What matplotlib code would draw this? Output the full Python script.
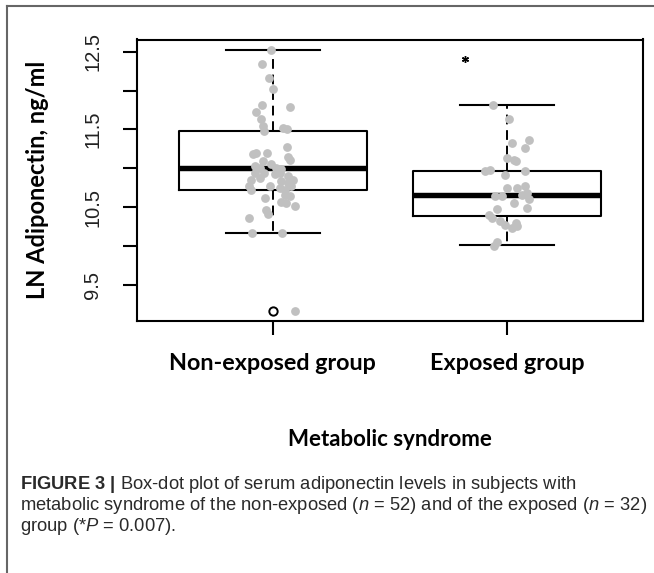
import numpy as np
import matplotlib
matplotlib.use("Agg")
import matplotlib.pyplot as plt
from matplotlib.lines import Line2D

plt.rcParams['mathtext.fontset'] = 'custom'
plt.rcParams['mathtext.rm'] = 'Liberation Sans'
plt.rcParams['mathtext.it'] = 'Liberation Sans:italic'
plt.rcParams['mathtext.bf'] = 'Liberation Sans:bold'

groups = ["Non-exposed group", "Exposed group"]

# LN adiponectin of each subject (dots), with the horizontal jitter seen in the picture
non_exposed = [12.52, 12.34, 12.16, 12.02, 11.81, 11.79, 11.72, 11.63, 11.54, 11.48,
               11.52, 11.50, 11.28, 11.18, 11.19, 11.19, 11.15, 11.11, 11.09, 11.05,
               11.03, 11.00, 11.00, 10.99, 10.94, 10.94, 10.92, 10.94, 10.90, 10.85,
               10.88, 10.83, 10.81, 10.85, 10.77, 10.72, 10.77, 10.75, 10.72, 10.77,
               10.66, 10.64, 10.62, 10.57, 10.55, 10.51, 10.46, 10.41, 10.36, 10.17,
               10.16, 9.16]
non_exposed_jitter = [-0.008, -0.048, -0.018, 0.0, -0.046, 0.072, -0.071, -0.05, -0.043, -0.04,
                      0.043, 0.059, 0.061, -0.086, -0.071, -0.024, 0.064, 0.072, -0.043, -0.007,
                      -0.078, -0.057, 0.015, 0.036, -0.078, -0.036, 0.007, 0.029, 0.064, -0.093,
                      -0.057, 0.036, 0.064, 0.086, -0.1, -0.093, -0.014, 0.029, 0.05, 0.079,
                      0.05, 0.072, -0.033, 0.036, 0.057, 0.093, -0.028, -0.021, -0.104, -0.087,
                      0.039, 0.096]

exposed = [11.81, 11.63, 11.37, 11.26, 11.33, 11.13, 11.11, 11.09, 10.96, 10.98,
           10.91, 10.97, 10.75, 10.75, 10.77, 10.64, 10.64, 10.66, 10.68, 10.60,
           10.55, 10.49, 10.47, 10.40, 10.36, 10.32, 10.27, 10.30, 10.23, 10.25,
           10.05, 10.00]
exposed_jitter = [-0.062, 0.007, 0.093, 0.078, 0.021, 0.0, 0.028, 0.036, -0.093, -0.072,
                  -0.007, 0.078, 0.001, 0.044, 0.078, -0.05, -0.021, 0.064, 0.086, 0.093,
                  0.028, 0.086, -0.043, -0.079, -0.064, -0.029, -0.007, 0.036, 0.021, 0.043,
                  -0.043, -0.057]

# box summaries as drawn
whislo = [10.16, 10.01]
q1 = [10.72, 10.39]
med = [11.00, 10.65]
q3 = [11.48, 10.97]
whishi = [12.52, 11.81]
fliers = [[9.16], []]

y_ticks = [9.5, 10.0, 10.5, 11.0, 11.5, 12.0, 12.5]
y_tick_labels = ["9.5", "", "10.5", "", "11.5", "", "12.5"]

caption = [r"$\mathbf{FIGURE\ 3\ |}$ Box-dot plot of serum adiponectin levels in subjects with",
           r"metabolic syndrome of the non-exposed ($n$ = 52) and of the exposed ($n$ = 32)",
           r"group (*$P$ = 0.007)."]

W, H = 654, 573
fig = plt.figure(figsize=(W / 100, H / 100), dpi=100)
ax = fig.add_axes([137 / W, 1 - 321 / H, 506 / W, 281.5 / H])

stats = []
for i in range(2):
    stats.append(dict(med=med[i], q1=q1[i], q3=q3[i], whislo=whislo[i],
                      whishi=whishi[i], fliers=fliers[i]))

ax.bxp(stats, positions=[1, 2], widths=0.8, capwidths=0.4,
       boxprops=dict(color='k', lw=1.5),
       medianprops=dict(color='k', lw=3.9, solid_capstyle='butt'),
       whiskerprops=dict(color='k', lw=1.4, linestyle=(0, (5, 3))),
       capprops=dict(color='k', lw=1.5),
       flierprops=dict(marker='o', mfc='none', mec='k', ms=6, mew=1.4))

ax.scatter(1 + np.array(non_exposed_jitter), non_exposed, s=40, color='#c0c0c0',
           linewidths=0, zorder=4)
ax.scatter(2 + np.array(exposed_jitter), exposed, s=40, color='#c0c0c0',
           linewidths=0, zorder=4)

# significance mark
ax.plot(1.82, 12.41, marker=(6, 2, 0), ms=5, color='k', mew=1.0)

ax.set_xlim(0.42, 2.58)
ax.set_ylim(9.03, 12.66)
ax.set_xticks([1, 2])
ax.set_xticklabels(groups, fontfamily='Lato', fontweight='bold', fontsize=16.8)
ax.set_yticks(y_ticks)
ax.set_yticklabels(y_tick_labels, rotation=90, va='center', fontfamily='Liberation Sans',
                   fontsize=14.5, color='#222222')
ax.tick_params(axis='both', direction='out', length=10, width=1.5, color='k')
ax.tick_params(axis='y', pad=15)
ax.tick_params(axis='x', pad=13)
for s in ax.spines.values():
    s.set_linewidth(1.5)

fig.text(38 / W, 1 - 180 / H, "LN Adiponectin, ng/ml", rotation=90, ha='center', va='center',
         fontfamily='Lato', fontweight='bold', fontsize=17)
fig.text(390 / W, 1 - 440 / H, "Metabolic syndrome", ha='center', va='center',
         fontfamily='Lato', fontweight='bold', fontsize=16)

for k, line in enumerate(caption):
    fig.text(20 / W, 1 - (489 + 21 * k) / H, line, ha='left', va='baseline',
             fontfamily='Liberation Sans', fontsize=13.2, color='#2a2a2a')

# figure frame (top and left rules)
fig.add_artist(Line2D([7 / W, 1], [1 - 6 / H, 1 - 6 / H], color='#666666', lw=1.5))
fig.add_artist(Line2D([7 / W, 7 / W], [0, 1 - 6 / H], color='#666666', lw=1.5))

fig.savefig("out.png", dpi=100)
